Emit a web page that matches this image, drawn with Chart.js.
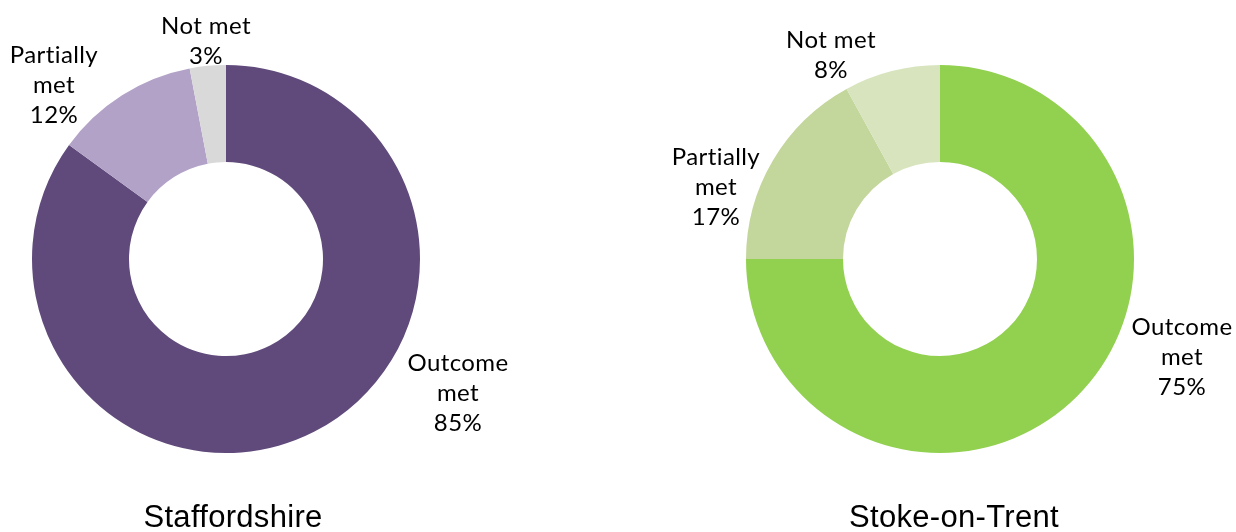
<!DOCTYPE html>
<html>
<head>
<meta charset="utf-8">
<script src="https://cdn.jsdelivr.net/npm/chart.js@4"></script>
<style>
  html, body { margin: 0; padding: 0; background: #fff; }
  #wrap { position: relative; width: 1236px; height: 532px; }
  .pane { position: absolute; top: 0; width: 618px; height: 532px; }
</style>
</head>
<body>
<div id="wrap">
  <div class="pane" style="left:0"><canvas id="staffs"></canvas></div>
  <div class="pane" style="left:618px"><canvas id="stoke"></canvas></div>
</div>
<script>
// Outcome shares by area
const categories = ['Outcome met', 'Partially met', 'Not met'];
const labelLines = [['Outcome', 'met'], ['Partially', 'met'], ['Not met']];
const staffordshireValues = [85, 12, 3];
const stokeValues = [75, 17, 8];

const purples = ['#604A7B', '#B3A2C7', '#D9D9D9'];
const greens = ['#92D050', '#C3D69B', '#D7E4BD'];

// where each label block sits, relative to the doughnut centre
const staffsLabelOffsets = [[232, 134], [-172, -174], [-20, -218]];
const stokeLabelOffsets = [[242, 98], [-224, -72], [-109, -204]];

const labelFont = '24px Lato, "Open Sans", sans-serif';
const titleFont = '31px "Liberation Sans", Arial, sans-serif';

const sliceLabels = {
  id: 'sliceLabels',
  afterDraw(chart, args, opts) {
    const { ctx } = chart;
    const arc = chart.getDatasetMeta(0).data[0];
    const cx = arc.x, cy = arc.y;
    const values = chart.data.datasets[0].data;
    ctx.save();
    ctx.fillStyle = '#000';
    ctx.textAlign = 'center';
    ctx.textBaseline = 'middle';
    ctx.font = labelFont;
    ctx.letterSpacing = '0.4px'; // also keeps "ti" from joining
    const lh = 30;
    values.forEach((v, i) => {
      const lines = labelLines[i].concat([v + '%']);
      const [ox, oy] = opts.offsets[i];
      const top = cy + oy - (lines.length - 1) * lh / 2;
      lines.forEach((t, j) => ctx.fillText(t, cx + ox, top + j * lh));
    });
    // area name underneath
    ctx.font = titleFont;
    ctx.letterSpacing = '0.3px';
    ctx.fillText(opts.title, cx + opts.titleShift, 518);
    ctx.restore();
  }
};

function makeDoughnut(id, values, colors, padding, offsets, title, titleShift) {
  new Chart(document.getElementById(id), {
    type: 'doughnut',
    data: {
      labels: categories,
      datasets: [{
        data: values,
        backgroundColor: colors,
        borderWidth: 0
      }]
    },
    options: {
      responsive: true,
      maintainAspectRatio: false,
      animation: false,
      cutout: '50%',
      layout: { padding },
      plugins: {
        legend: { display: false },
        tooltip: { enabled: false },
        sliceLabels: { offsets, title, titleShift }
      }
    },
    plugins: [sliceLabels]
  });
}

makeDoughnut('staffs', staffordshireValues, purples,
  { left: 32, right: 198, top: 65, bottom: 79 }, staffsLabelOffsets, 'Staffordshire', 7);
makeDoughnut('stoke', stokeValues, greens,
  { left: 128, right: 102, top: 65, bottom: 79 }, stokeLabelOffsets, 'Stoke-on-Trent', 14);
</script>
</body>
</html>
